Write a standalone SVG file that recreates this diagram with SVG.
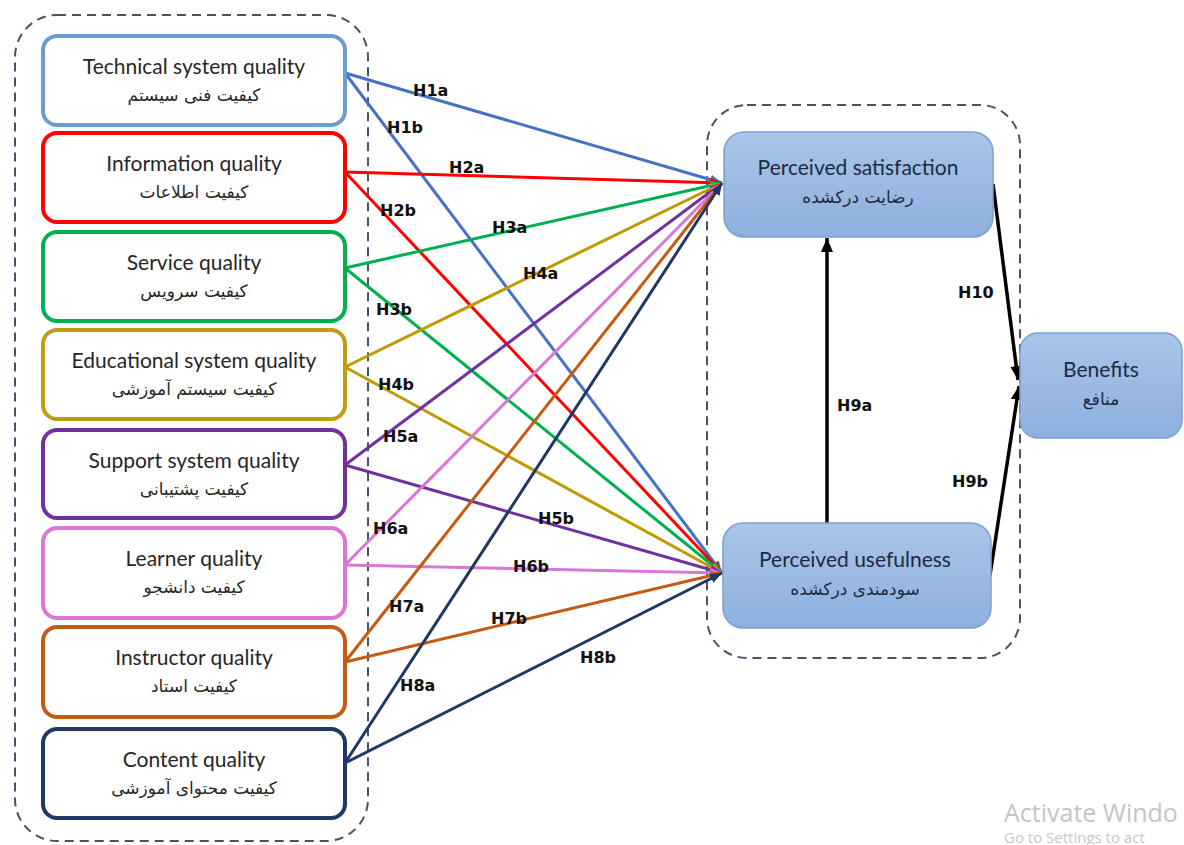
<svg xmlns="http://www.w3.org/2000/svg" width="1184" height="845" viewBox="0 0 1184 845">
<style>
.box{fill:#fff;stroke-width:4}
.en{font-family:Lato,"Liberation Sans",sans-serif;font-size:21px;fill:#262626;text-anchor:middle}
.fa{font-family:"DejaVu Sans",sans-serif;font-size:17px;fill:#262626;text-anchor:middle}
.ben{fill:url(#bg);stroke:#7f9fcf;stroke-width:1.5}
.ben-en{font-family:Lato,"Liberation Sans",sans-serif;font-size:21px;fill:#1c2a44;text-anchor:middle}
.ben-fa{font-family:"DejaVu Sans",sans-serif;font-size:17px;fill:#1c2a44;text-anchor:middle}
.cont{fill:none;stroke:#44546a;stroke-width:2;stroke-dasharray:9 6}
.ln{fill:none;stroke-width:3}
.blk{fill:none;stroke:#000;stroke-width:3.5}
.lbl{font-family:"DejaVu Sans",sans-serif;font-weight:bold;font-size:16px;fill:#111}
.wm1{font-family:"Open Sans","Noto Sans",sans-serif;font-size:25px;fill:#c4c4c4}
.wm2{font-family:"Open Sans","Noto Sans",sans-serif;font-size:15px;fill:#c8c8c8}
</style>
<defs>
<linearGradient id="bg" x1="0" y1="0" x2="0" y2="1">
<stop offset="0" stop-color="#a9c5e9"/>
<stop offset="1" stop-color="#8eb0de"/>
</linearGradient>
<marker id="m1" viewBox="0 0 12 10" refX="12" refY="5" markerWidth="12" markerHeight="10" markerUnits="userSpaceOnUse" orient="auto"><path d="M0,0L12,5L0,10z" fill="#4472c4"/></marker>
<marker id="m2" viewBox="0 0 12 10" refX="12" refY="5" markerWidth="12" markerHeight="10" markerUnits="userSpaceOnUse" orient="auto"><path d="M0,0L12,5L0,10z" fill="#ff0000"/></marker>
<marker id="m3" viewBox="0 0 12 10" refX="12" refY="5" markerWidth="12" markerHeight="10" markerUnits="userSpaceOnUse" orient="auto"><path d="M0,0L12,5L0,10z" fill="#00b050"/></marker>
<marker id="m4" viewBox="0 0 12 10" refX="12" refY="5" markerWidth="12" markerHeight="10" markerUnits="userSpaceOnUse" orient="auto"><path d="M0,0L12,5L0,10z" fill="#c09a00"/></marker>
<marker id="m5" viewBox="0 0 12 10" refX="12" refY="5" markerWidth="12" markerHeight="10" markerUnits="userSpaceOnUse" orient="auto"><path d="M0,0L12,5L0,10z" fill="#7030a0"/></marker>
<marker id="m6" viewBox="0 0 12 10" refX="12" refY="5" markerWidth="12" markerHeight="10" markerUnits="userSpaceOnUse" orient="auto"><path d="M0,0L12,5L0,10z" fill="#da76d8"/></marker>
<marker id="m7" viewBox="0 0 12 10" refX="12" refY="5" markerWidth="12" markerHeight="10" markerUnits="userSpaceOnUse" orient="auto"><path d="M0,0L12,5L0,10z" fill="#c55a11"/></marker>
<marker id="m8" viewBox="0 0 12 10" refX="12" refY="5" markerWidth="12" markerHeight="10" markerUnits="userSpaceOnUse" orient="auto"><path d="M0,0L12,5L0,10z" fill="#1f3864"/></marker>
<marker id="mk" viewBox="0 0 14 12" refX="14" refY="6" markerWidth="14" markerHeight="12" markerUnits="userSpaceOnUse" orient="auto"><path d="M0,0L14,6L0,12z" fill="#000"/></marker>
</defs>
<rect width="1184" height="845" fill="#fff"/>

<g id="containers">
<rect class="cont" x="15" y="15" width="353" height="826" rx="42"/>
<rect class="cont" x="707" y="105" width="313" height="553" rx="40"/>
</g>

<g id="connectors">
<line class="ln" x1="345" y1="73" x2="722" y2="183" stroke="#4472c4" marker-end="url(#m1)"/>
<line class="ln" x1="345" y1="73" x2="722" y2="573" stroke="#4472c4" marker-end="url(#m1)"/>
<line class="ln" x1="345" y1="172" x2="722" y2="183" stroke="#ff0000" marker-end="url(#m2)"/>
<line class="ln" x1="345" y1="172" x2="722" y2="573" stroke="#ff0000" marker-end="url(#m2)"/>
<line class="ln" x1="345" y1="268" x2="722" y2="183" stroke="#00b050" marker-end="url(#m3)"/>
<line class="ln" x1="345" y1="268" x2="722" y2="573" stroke="#00b050" marker-end="url(#m3)"/>
<line class="ln" x1="345" y1="367" x2="722" y2="183" stroke="#c09a00" marker-end="url(#m4)"/>
<line class="ln" x1="345" y1="367" x2="722" y2="573" stroke="#c09a00" marker-end="url(#m4)"/>
<line class="ln" x1="345" y1="465" x2="722" y2="183" stroke="#7030a0" marker-end="url(#m5)"/>
<line class="ln" x1="345" y1="465" x2="722" y2="573" stroke="#7030a0" marker-end="url(#m5)"/>
<line class="ln" x1="345" y1="565" x2="722" y2="183" stroke="#da76d8" marker-end="url(#m6)"/>
<line class="ln" x1="345" y1="565" x2="722" y2="573" stroke="#da76d8" marker-end="url(#m6)"/>
<line class="ln" x1="345" y1="662" x2="722" y2="183" stroke="#c55a11" marker-end="url(#m7)"/>
<line class="ln" x1="345" y1="662" x2="722" y2="573" stroke="#c55a11" marker-end="url(#m7)"/>
<line class="ln" x1="345" y1="763" x2="722" y2="183" stroke="#1f3864" marker-end="url(#m8)"/>
<line class="ln" x1="345" y1="763" x2="722" y2="573" stroke="#1f3864" marker-end="url(#m8)"/>
<line class="blk" x1="827" y1="523" x2="827" y2="238" marker-end="url(#mk)"/>
<line class="blk" x1="993" y1="184" x2="1018" y2="380" marker-end="url(#mk)"/>
<line class="blk" x1="990" y1="575" x2="1019" y2="386" marker-end="url(#mk)"/>
</g>

<g id="labels">
<text class="lbl" x="413" y="96">H1a</text>
<text class="lbl" x="387" y="133">H1b</text>
<text class="lbl" x="449" y="173">H2a</text>
<text class="lbl" x="380" y="216">H2b</text>
<text class="lbl" x="492" y="233">H3a</text>
<text class="lbl" x="523" y="279">H4a</text>
<text class="lbl" x="376" y="315">H3b</text>
<text class="lbl" x="378" y="390">H4b</text>
<text class="lbl" x="383" y="442">H5a</text>
<text class="lbl" x="538" y="524">H5b</text>
<text class="lbl" x="373" y="534">H6a</text>
<text class="lbl" x="513" y="572">H6b</text>
<text class="lbl" x="389" y="612">H7a</text>
<text class="lbl" x="491" y="624">H7b</text>
<text class="lbl" x="580" y="663">H8b</text>
<text class="lbl" x="400" y="691">H8a</text>
<text class="lbl" x="837" y="411">H9a</text>
<text class="lbl" x="958" y="298">H10</text>
<text class="lbl" x="952" y="487">H9b</text>
</g>

<g id="n1"><rect class="box" x="43" y="36" width="302" height="89" rx="14" stroke="#6a9bd3"/><text class="en" x="194" y="74">Technical system quality</text><text class="fa" x="194" y="101">کیفیت  فنی سیستم</text></g>
<g id="n2"><rect class="box" x="43" y="133" width="302" height="89" rx="14" stroke="#ff0000"/><text class="en" x="194" y="171">Information quality</text><text class="fa" x="194" y="198">کیفیت اطلاعات</text></g>
<g id="n3"><rect class="box" x="43" y="232" width="302" height="89" rx="14" stroke="#00b050"/><text class="en" x="194" y="270">Service quality</text><text class="fa" x="194" y="297">کیفیت سرویس</text></g>
<g id="n4"><rect class="box" x="43" y="330" width="302" height="89" rx="14" stroke="#c49a12"/><text class="en" x="194" y="368">Educational system quality</text><text class="fa" x="194" y="395">کیفیت سیستم آموزشی</text></g>
<g id="n5"><rect class="box" x="43" y="430" width="302" height="88" rx="14" stroke="#7030a0"/><text class="en" x="194" y="468">Support system quality</text><text class="fa" x="194" y="495">کیفیت پشتیبانی</text></g>
<g id="n6"><rect class="box" x="43" y="528" width="302" height="90" rx="14" stroke="#da76d8"/><text class="en" x="194" y="566">Learner quality</text><text class="fa" x="194" y="593">کیفیت دانشجو</text></g>
<g id="n7"><rect class="box" x="43" y="627" width="302" height="90" rx="14" stroke="#c55a11"/><text class="en" x="194" y="665">Instructor quality</text><text class="fa" x="194" y="692">کیفیت استاد</text></g>
<g id="n8"><rect class="box" x="43" y="729" width="302" height="89" rx="14" stroke="#1f3864"/><text class="en" x="194" y="767">Content quality</text><text class="fa" x="194" y="794">کیفیت محتوای آموزشی</text></g>

<g id="ps"><rect class="ben" x="724" y="132" width="269" height="105" rx="20"/><text class="ben-en" x="858" y="175">Perceived satisfaction</text><text class="ben-fa" x="858" y="203">رضایت درکشده</text></g>
<g id="pu"><rect class="ben" x="723" y="523" width="268" height="105" rx="20"/><text class="ben-en" x="855" y="567">Perceived usefulness</text><text class="ben-fa" x="855" y="595">سودمندی درکشده</text></g>
<g id="benefits"><rect class="ben" x="1020" y="333" width="162" height="105" rx="18"/><text class="ben-en" x="1101" y="377">Benefits</text><text class="ben-fa" x="1101" y="405">منافع</text></g>

<g id="watermark">
<text class="wm1" x="1004" y="822">Activate Windo</text>
<text class="wm2" x="1004" y="843">Go to Settings to act</text>
</g>
</svg>
